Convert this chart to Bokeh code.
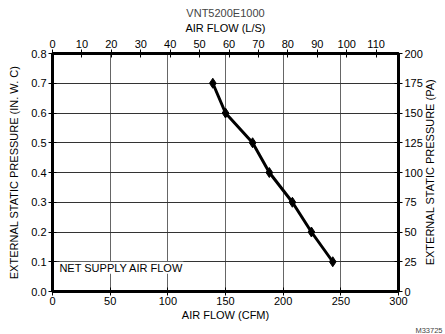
import math
from bokeh.plotting import figure
from bokeh.models import LinearAxis, Range1d, Label, FixedTicker, Title, Grid
from bokeh.embed import file_html
from bokeh.resources import INLINE

# data
airflow_cfm = [139, 150, 173.5, 188, 208, 224.5, 243]
pressure_inwc = [0.7, 0.6, 0.5, 0.4, 0.3, 0.2, 0.1]

cfm_ticks = [0, 50, 100, 150, 200, 250, 300]
ls_ticks = [0, 10, 20, 30, 40, 50, 60, 70, 80, 90, 100, 110]
inwc_ticks = [0.0, 0.1, 0.2, 0.3, 0.4, 0.5, 0.6, 0.7, 0.8]
pa_ticks = [0, 25, 50, 75, 100, 125, 150, 175, 200]
inwc_labels = {0.0: "0.0", 0.1: "0.1", 0.2: "0.2", 0.3: "0.3", 0.4: "0.4",
               0.5: "0.5", 0.6: "0.6", 0.7: "0.7", 0.8: "0.8"}
right_title = "EXTERNAL STATIC PRESSURE (PA)"
right_title_start_pa = 22  # where the rotated right-hand title begins

FONT = "Liberation Sans"
FS = "11px"

p = figure(width=445, height=334, x_range=Range1d(0, 300), y_range=Range1d(0, 0.8),
           output_backend="svg", toolbar_location=None, title=None,
           x_axis_location=None, y_axis_location=None,
           min_border_left=52, min_border_right=46, min_border_top=53, min_border_bottom=38)
p.extra_x_ranges = {"ls": Range1d(0, 300 / 2.551)}
p.extra_y_ranges = {"pa": Range1d(0, 200)}

bottom_axis = LinearAxis(ticker=FixedTicker(ticks=cfm_ticks), axis_label="AIR FLOW (CFM)")
left_axis = LinearAxis(ticker=FixedTicker(ticks=inwc_ticks),
                       major_label_overrides=inwc_labels,
                       axis_label="EXTERNAL STATIC PRESSURE (IN. W. C)")
top_axis = LinearAxis(x_range_name="ls", ticker=FixedTicker(ticks=ls_ticks),
                      axis_label="AIR FLOW (L/S)")
right_axis = LinearAxis(y_range_name="pa", ticker=FixedTicker(ticks=pa_ticks))
# rotated (bottom-to-top) right-hand title, carried by a bare axis
right_title_axis = LinearAxis(y_range_name="pa",
                              ticker=FixedTicker(ticks=[right_title_start_pa]),
                              major_label_overrides={right_title_start_pa: right_title},
                              major_label_orientation=math.pi / 2,
                              axis_line_color=None, major_tick_line_color=None,
                              minor_tick_line_color=None, major_tick_in=0, major_tick_out=0,
                              major_label_standoff=5, major_label_text_font=FONT,
                              major_label_text_font_size=FS, major_label_text_color="black")
p.add_layout(bottom_axis, "below")
p.add_layout(left_axis, "left")
p.add_layout(top_axis, "above")
p.add_layout(right_axis, "right")
p.add_layout(right_title_axis, "right")
p.add_layout(Title(text="VNT5200E1000", align="center", text_font=FONT,
                   text_font_size=FS, text_font_style="normal", standoff=0,
                   offset=0), "above")
p.add_layout(Title(text="M33725", align="right", text_font=FONT,
                   text_font_size="7.5px", text_font_style="normal", standoff=0,
                   text_line_height=0.8, offset=-44), "below")

for ax in [bottom_axis, left_axis, top_axis, right_axis]:
    ax.axis_line_width = 3
    ax.axis_line_color = "black"
    ax.major_tick_in = 4
    ax.major_tick_out = 4
    ax.major_tick_line_color = "black"
    ax.major_tick_line_width = 1
    ax.minor_tick_line_color = None
    ax.major_label_text_font = FONT
    ax.major_label_text_font_size = FS
    ax.major_label_text_color = "black"
    ax.axis_label_text_font = FONT
    ax.axis_label_text_font_size = FS
    ax.axis_label_text_font_style = "normal"
    ax.axis_label_text_color = "black"
    ax.major_label_standoff = 2
    ax.axis_label_standoff = 3
bottom_axis.major_label_standoff = 1
bottom_axis.axis_label_standoff = 1
left_axis.axis_label_standoff = 8

xgrid = Grid(dimension=0, ticker=FixedTicker(ticks=cfm_ticks), grid_line_color="#666666")
ygrid = Grid(dimension=1, ticker=FixedTicker(ticks=inwc_ticks), grid_line_color="#333333")
p.add_layout(xgrid)
p.add_layout(ygrid)

p.outline_line_color = "black"
p.outline_line_width = 3

p.line(airflow_cfm, pressure_inwc, line_color="black", line_width=3)
p.scatter(airflow_cfm, pressure_inwc, marker="diamond", size=10, color="black")

p.add_layout(Label(x=6, y=0.1, text="NET SUPPLY AIR FLOW", text_baseline="top",
                   text_font=FONT, text_font_size=FS, text_color="black",
                   background_fill_color="white"))

open("out.html", "w").write(file_html(p, INLINE))
